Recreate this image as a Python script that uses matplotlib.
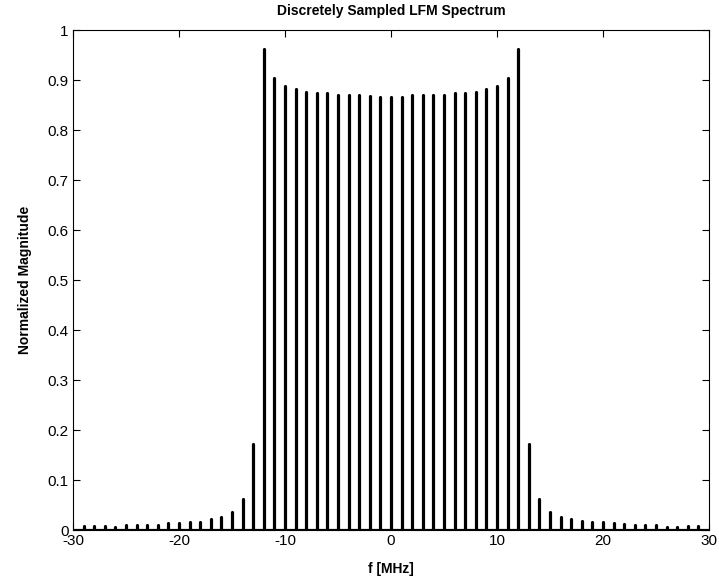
import matplotlib
matplotlib.use("Agg")
import matplotlib.pyplot as plt
import numpy as np

plt.rcParams['font.family'] = ['Liberation Sans', 'DejaVu Sans']

freq_mhz = list(range(-29, 30))
left_tail = [0.008, 0.008, 0.008, 0.0065, 0.0105, 0.0105, 0.0105, 0.0105,
             0.014, 0.015, 0.016, 0.016, 0.0215, 0.026, 0.036, 0.062, 0.173]
passband = [0.962, 0.905, 0.888, 0.882, 0.877, 0.874, 0.874, 0.871, 0.871,
            0.871, 0.869, 0.867, 0.867, 0.867, 0.871, 0.871, 0.871, 0.871,
            0.874, 0.874, 0.877, 0.883, 0.888, 0.905, 0.962]
right_tail = [0.173, 0.062, 0.036, 0.027, 0.0215, 0.018, 0.016, 0.016,
              0.014, 0.012, 0.0105, 0.0105, 0.0105, 0.0065, 0.0065, 0.008, 0.008]
magnitude = left_tail + passband + right_tail

x_ticks = [-30, -20, -10, 0, 10, 20, 30]
y_ticks = [0, 0.1, 0.2, 0.3, 0.4, 0.5, 0.6, 0.7, 0.8, 0.9, 1]
y_tick_labels = ['0', '0.1', '0.2', '0.3', '0.4', '0.5', '0.6', '0.7', '0.8', '0.9', '1']

fig = plt.figure(figsize=(7.19, 5.85), dpi=100)
ax = fig.add_axes([73/719, 1 - 530/585, (709 - 73)/719, (530 - 30)/585])

ax.vlines(freq_mhz, 0, magnitude, colors='black', linewidth=2.3, capstyle='round')
ax.axhline(0, color='black', linewidth=2.3, xmin=0, xmax=1)

ax.set_xlim(-30, 30)
ax.set_ylim(0, 1)
ax.set_xticks(x_ticks)
ax.set_xticklabels([str(t) for t in x_ticks])
ax.set_yticks(y_ticks)
ax.set_yticklabels(y_tick_labels)
ax.tick_params(direction='in', top=True, right=True, length=5, width=0.8,
               labelsize=11, pad=3)
for s in ax.spines.values():
    s.set_linewidth(0.8)

ax.set_title('Discretely Sampled LFM Spectrum', fontsize=10, fontweight='bold', pad=11)
ax.set_xlabel('f [MHz]', fontsize=10, fontweight='bold', labelpad=10)
ax.set_ylabel('Normalized Magnitude', fontsize=10, fontweight='bold', labelpad=11)

fig.savefig('out.png', dpi=100)
